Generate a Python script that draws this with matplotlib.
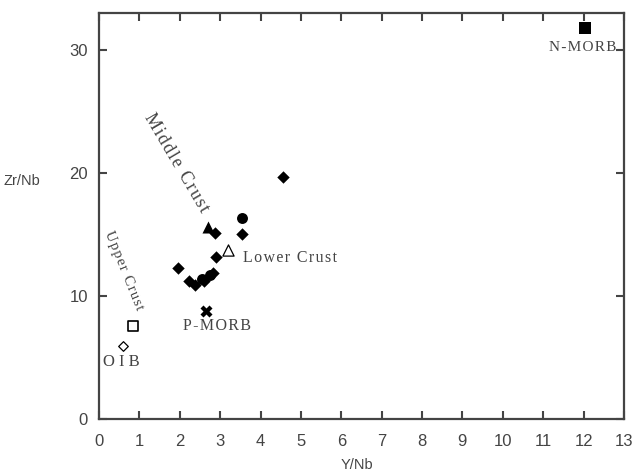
import matplotlib.pyplot as plt

# samples (Y/Nb, Zr/Nb)
dia_x = [4.56, 3.53, 2.87, 2.91, 1.95, 2.24, 2.38, 2.60, 2.83]
dia_y = [19.7, 15.0, 15.1, 13.2, 12.25, 11.2, 10.9, 11.2, 11.9]
cir_x = [3.53, 2.54, 2.76]
cir_y = [16.3, 11.4, 11.7]

# reference reservoirs
nmorb = (12.03, 31.8)
pmorb = (2.65, 8.8)
oib = (0.59, 5.9)
upper_crust = (0.85, 7.6)
middle_crust = (2.71, 15.6)
lower_crust = (3.20, 13.7)

x_ticks = list(range(0, 14))
y_ticks = [0, 10, 20, 30]


def spaced(s):
    # loose letter spacing with hair spaces
    return '\u200a'.join(s)


plt.rcParams['font.family'] = ['Liberation Sans', 'DejaVu Sans']
fig = plt.figure(figsize=(6.32, 4.76), dpi=100)
ax = fig.add_axes([0.1566, 0.1197, 0.8307, 0.853])

ax.scatter(dia_x, dia_y, marker='D', s=40, c='black', linewidths=0)
ax.scatter(cir_x, cir_y, marker='o', s=62, c='black', linewidths=0)
ax.scatter(*nmorb, marker='s', s=65, c='black', linewidths=0)
ax.scatter(*pmorb, marker='X', s=75, c='black', linewidths=0)
ax.scatter(*oib, marker='D', s=24, facecolors='white', edgecolors='black', linewidths=0.9)
ax.scatter(*upper_crust, marker='s', s=60, facecolors='white', edgecolors='black', linewidths=1.2)
ax.scatter(*middle_crust, marker='^', s=75, c='black', linewidths=0)
ax.scatter(*lower_crust, marker='^', s=65, facecolors='white', edgecolors='black', linewidths=0.9)

serif = dict(family=['Liberation Serif', 'DejaVu Serif'], color='#444444')
ax.text(11.15, 30.2, spaced('N-MORB'), fontsize=11, va='center', ha='left', **serif)
ax.text(3.56, 13.1, spaced('Lower Crust'), fontsize=11.5, va='center', ha='left', **serif)
ax.text(2.07, 7.55, spaced('P-MORB'), fontsize=11.5, va='center', ha='left', **serif)
ax.text(0.09, 4.66, 'O I B', fontsize=12, va='center', ha='left', **serif)
ax.text(0.62, 12.1, spaced('Upper Crust'), fontsize=10.5, rotation=-68, rotation_mode='anchor',
        va='center', ha='center', **serif)
ax.text(1.92, 20.8, spaced('Middle Crust'), fontsize=13, rotation=-59.5, rotation_mode='anchor',
        va='center', ha='center', **serif)

ax.set_xlim(0, 13)
ax.set_ylim(0, 33)
ax.set_xticks(x_ticks)
ax.set_yticks(y_ticks)
ax.tick_params(direction='in', length=6, width=1.5, color='#444444', labelcolor='#444444',
               labelsize=12, top=True, right=True)
ax.tick_params(axis='x', pad=11)
ax.tick_params(axis='y', pad=8)
for s in ax.spines.values():
    s.set_linewidth(1.6)
    s.set_color('#444444')

ax.set_xlabel('Y/Nb', fontsize=10.5, color='#444444')
ax.set_ylabel('Zr/Nb', fontsize=10.5, color='#444444', rotation=0)
ax.xaxis.set_label_coords(0.491, -0.096)
ax.yaxis.set_label_coords(-0.147, 0.57)

fig.savefig('out.png', dpi=100)
